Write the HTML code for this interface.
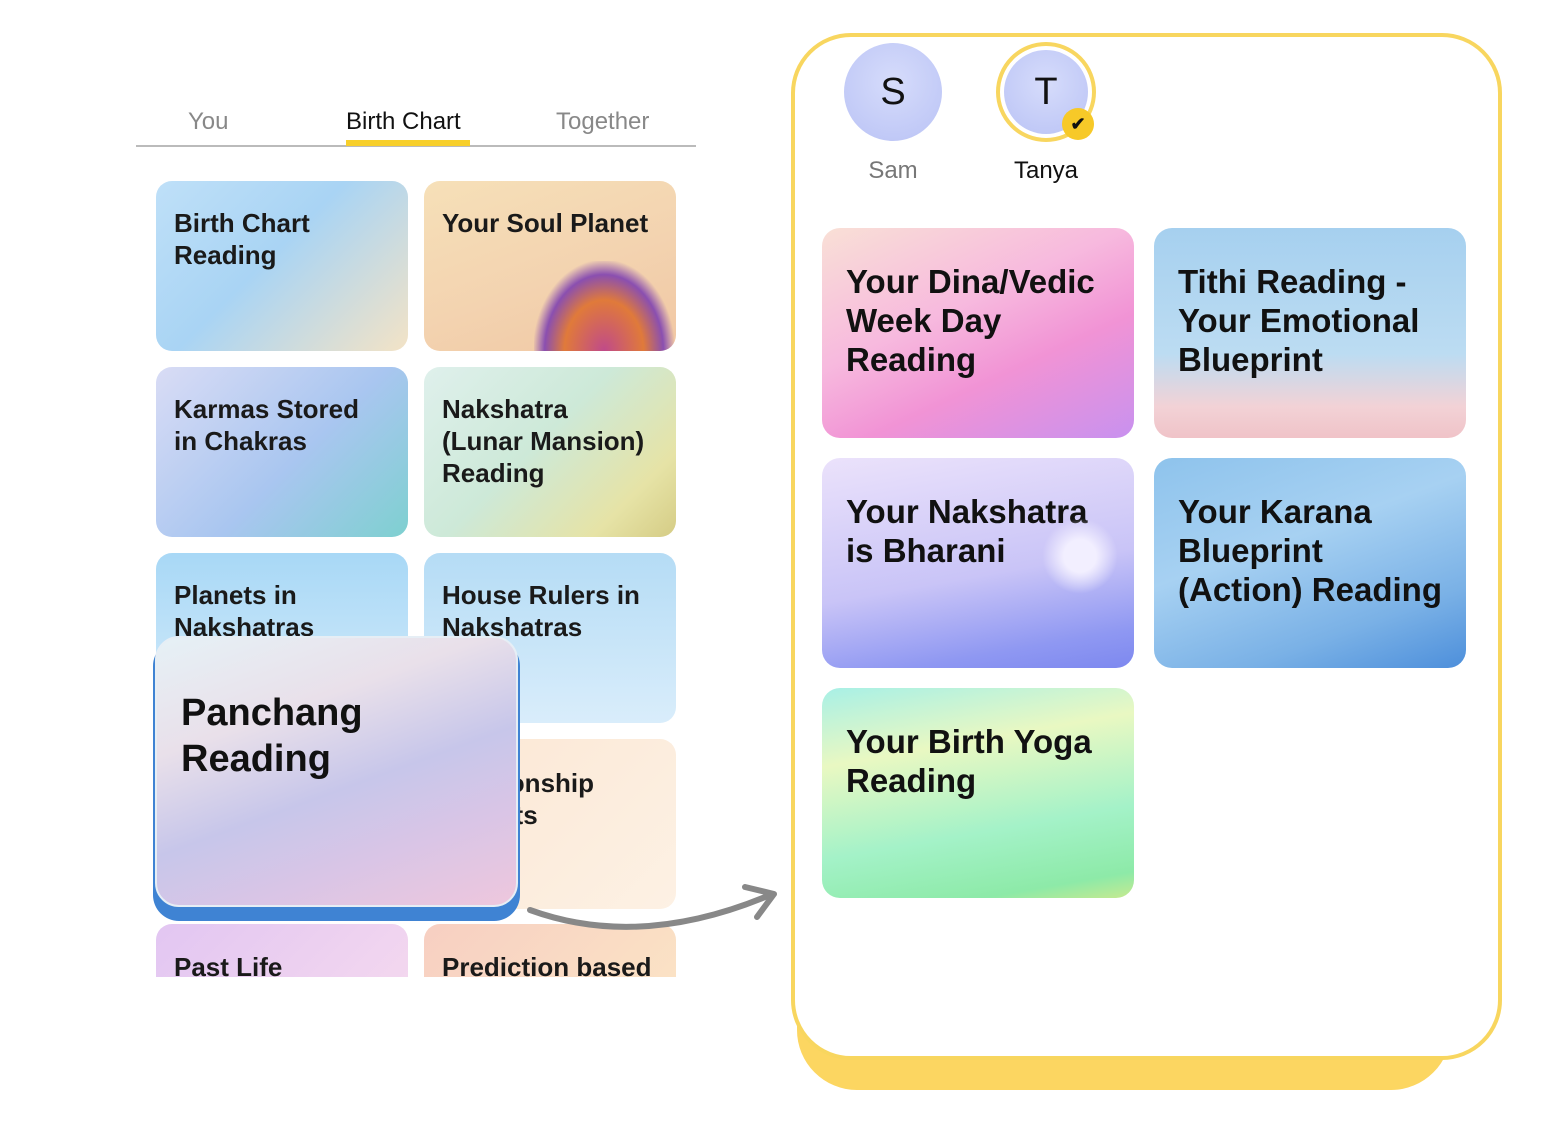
<!DOCTYPE html>
<html><head><meta charset="utf-8"><style>
body{margin:0;width:1547px;height:1140px;background:#fff;position:relative;overflow:hidden;font-family:"Liberation Sans",sans-serif;}
.a{position:absolute}
.c{position:absolute;border-radius:16px;overflow:hidden;box-sizing:border-box;}
.t{position:absolute;left:18px;top:26px;font-weight:bold;font-size:26px;line-height:32px;color:#1a1a1a;white-space:nowrap}
.r{position:absolute;border-radius:18px;overflow:hidden;width:312px;height:210px}
.rt{position:absolute;left:24px;top:34px;font-weight:bold;font-size:33px;line-height:39px;color:#111;white-space:nowrap}
</style></head><body>
<div class="a" style="left:188px;top:108px;font-size:24px;color:#888">You</div>
<div class="a" style="left:346px;top:108px;font-size:24px;color:#111">Birth Chart</div>
<div class="a" style="left:556px;top:108px;font-size:24px;color:#888">Together</div>
<div class="a" style="left:136px;top:145px;width:560px;height:2px;background:#bbb"></div>
<div class="a" style="left:346px;top:140px;width:124px;height:6px;background:#f7cf2b"></div>

<div class="c" style="left:156px;top:181px;width:252px;height:170px;background:linear-gradient(135deg,#bfe0f8,#a9d4f4 45%,#f3e3c6)"><div class="t">Birth Chart<br>Reading</div></div>
<div class="c" style="left:424px;top:181px;width:252px;height:170px;background:linear-gradient(160deg,#f6e0b8,#f3d3b0 55%,#f1c7a3)"><div class="t">Your Soul Planet</div>
<div class="a" style="left:110px;top:80px;width:140px;height:90px;background:radial-gradient(ellipse at 50% 100%,#c04a8a 0,#e07a3a 40%,#8a4fb0 60%,transparent 72%)"></div></div>
<div class="c" style="left:156px;top:367px;width:252px;height:170px;background:linear-gradient(135deg,#d9dcf5,#a9c6f0 55%,#7ed0d0)"><div class="t">Karmas Stored<br>in Chakras</div></div>
<div class="c" style="left:424px;top:367px;width:252px;height:170px;background:linear-gradient(135deg,#dff0ec,#cde9d8 45%,#e6e3a6 80%,#d5cc85)"><div class="t">Nakshatra<br>(Lunar Mansion)<br>Reading</div></div>
<div class="c" style="left:156px;top:553px;width:252px;height:170px;background:linear-gradient(180deg,#a8d8f6,#d6ecfb)"><div class="t">Planets in<br>Nakshatras</div></div>
<div class="c" style="left:424px;top:553px;width:252px;height:170px;background:linear-gradient(180deg,#b5dcf5,#d9edfb)"><div class="t">House Rulers in<br>Nakshatras</div></div>
<div class="c" style="left:424px;top:739px;width:252px;height:170px;background:linear-gradient(135deg,#fbe7d4,#fdf1e4)"><div class="t" style="left:14px;top:28px">Relationship<br>Insights</div></div>
<div class="c" style="left:156px;top:924px;width:252px;height:53px;border-radius:16px 16px 0 0;background:linear-gradient(135deg,#e2c6f2,#f3d7ef)"><div class="t" style="top:27px">Past Life</div></div>
<div class="c" style="left:424px;top:924px;width:252px;height:53px;border-radius:16px 16px 0 0;background:linear-gradient(135deg,#f7cfc2,#fbe2c5)"><div class="t" style="top:27px">Prediction based</div></div>

<div class="a" style="left:153px;top:640px;width:367px;height:281px;border-radius:26px;background:#3f83d3"></div>
<div class="c" style="left:155px;top:636px;width:363px;height:271px;border-radius:24px;border:2px solid #e6eef5;background:linear-gradient(160deg,#e6f1f6 0,#e9e0ea 30%,#c7c6ea 55%,#d9c5e6 75%,#eec7dd 100%)">
<div class="a" style="left:24px;top:52px;font-weight:bold;font-size:38px;line-height:46px;color:#111">Panchang<br>Reading</div></div>

<svg class="a" style="left:520px;top:870px" width="270" height="80"><path d="M10 40 Q120 80 250 25" fill="none" stroke="#888" stroke-width="6" stroke-linecap="round"/><path d="M225 17 L254 24 L237 47" fill="none" stroke="#888" stroke-width="6" stroke-linecap="round" stroke-linejoin="round"/></svg>

<div class="a" style="left:797px;top:60px;width:654px;height:1030px;border-radius:60px;background:#fcd661"></div>
<div class="a" style="left:791px;top:33px;width:711px;height:1027px;box-sizing:border-box;border:4px solid #f8d65f;border-radius:60px;background:#fff"></div>

<div class="a" style="left:844px;top:43px;width:98px;height:98px;border-radius:50%;background:radial-gradient(circle at 50% 40%,#d6dcfb,#b9c2f5);font-size:38px;line-height:98px;text-align:center;color:#111">S</div>
<div class="a" style="left:996px;top:42px;width:100px;height:100px;border-radius:50%;box-sizing:border-box;border:4px solid #f8d65f;background:#fff"></div>
<div class="a" style="left:1004px;top:50px;width:84px;height:84px;border-radius:50%;background:radial-gradient(circle at 50% 40%,#d6dcfb,#b9c2f5);font-size:38px;line-height:84px;text-align:center;color:#111">T</div>
<div class="a" style="left:1062px;top:108px;width:32px;height:32px;border-radius:50%;background:#f7c928;font-size:18px;line-height:32px;text-align:center;color:#111;font-weight:bold">✔</div>
<div class="a" style="left:843px;top:157px;width:100px;text-align:center;font-size:24px;color:#777">Sam</div>
<div class="a" style="left:996px;top:157px;width:100px;text-align:center;font-size:24px;color:#111">Tanya</div>

<div class="r" style="left:822px;top:228px;background:linear-gradient(155deg,#f9e0d6 0,#f7b9de 40%,#f193d5 65%,#c891ef 100%)"><div class="rt">Your Dina/Vedic<br>Week Day<br>Reading</div></div>
<div class="r" style="left:1154px;top:228px;background:linear-gradient(180deg,#a6d0ef 0,#bcdcf2 60%,#f2d2d6 85%,#f0c3c8)"><div class="rt">Tithi Reading -<br>Your Emotional<br>Blueprint</div></div>
<div class="r" style="left:822px;top:458px;background:linear-gradient(170deg,#ebe2fb 0,#c9c4f7 55%,#8f98f2 85%,#7d88ef)"><div class="rt">Your Nakshatra<br>is Bharani</div>
<div class="a" style="left:220px;top:60px;width:76px;height:76px;border-radius:50%;background:radial-gradient(circle,#f2efff 30%,rgba(230,230,255,0) 70%)"></div></div>
<div class="r" style="left:1154px;top:458px;background:linear-gradient(160deg,#8ec3ec 0,#a7d1f2 40%,#7ab1e6 75%,#4d8fdb)"><div class="rt">Your Karana<br>Blueprint<br>(Action) Reading</div></div>
<div class="r" style="left:822px;top:688px;background:linear-gradient(170deg,#a8f0e6 0,#e9f8c2 30%,#a4f2c8 65%,#8deaa8 90%,#c6ea90)"><div class="rt">Your Birth Yoga<br>Reading</div></div>
</body></html>
